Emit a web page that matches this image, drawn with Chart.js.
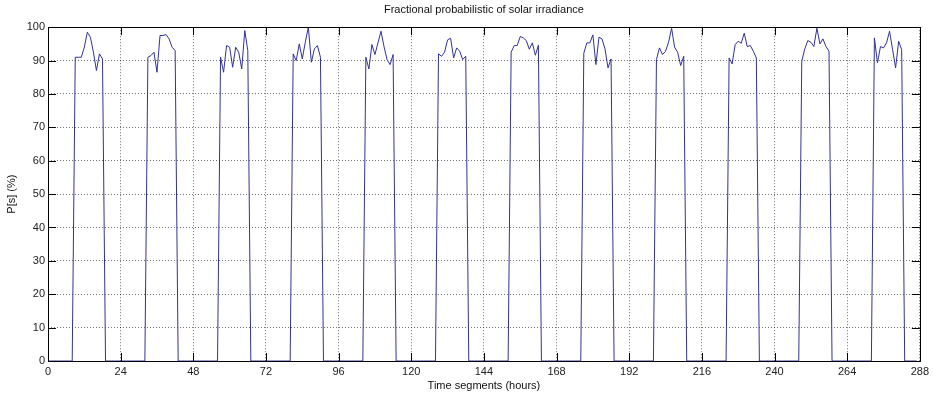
<!DOCTYPE html>
<html>
<head>
<meta charset="utf-8">
<script src="https://cdn.jsdelivr.net/npm/chart.js@4"></script>
<style>
  body { margin: 0; background: #fff; }
  canvas { display: block; }
</style>
</head>
<body>
<canvas id="myChart" width="933" height="401"></canvas>
<script>
// hourly values (%) for each of the 12 days, hour 0..23
const day1  = [0,0,0,0,0,0,0,0,0, 91, 91, 91, 94, 98.5, 97, 92.5, 87, 92, 90.5, 0,0,0,0,0]
const day2  = [0,0,0,0,0,0,0,0,0, 91, 91.5, 92.5, 86.5, 97.5, 97.5, 97.8, 96.5, 94, 93, 0,0,0,0,0]
const day3  = [0,0,0,0,0,0,0,0,0, 91, 86.5, 94.5, 94, 88, 94, 92.5, 87.5, 99, 93, 0,0,0,0,0]
const day4  = [0,0,0,0,0,0,0,0,0, 92, 90, 95, 90.5, 95.5, 100, 89.5, 93.5, 94.5, 91, 0,0,0,0,0]
const day5  = [0,0,0,0,0,0,0,0,0, 91, 87.5, 94.8, 91.8, 95.3, 98.8, 94.2, 90.3, 88.8, 91.8, 0,0,0,0,0]
const day6  = [0,0,0,0,0,0,0,0,0, 92, 91.3, 92.5, 96.2, 96.7, 90.8, 93.8, 92.8, 90.3, 91.3, 0,0,0,0,0]
const day7  = [0,0,0,0,0,0,0,0,0, 92.5, 94.5, 94.5, 97.2, 96.8, 96, 93.4, 95.3, 91.6, 94.6, 0,0,0,0,0]
const day8  = [0,0,0,0,0,0,0,0,0, 92.2, 95.3, 95.3, 97.7, 88.8, 97, 96.5, 93.5, 87.8, 90.5, 0,0,0,0,0]
const day9  = [0,0,0,0,0,0,0,0,0, 90.3, 93.8, 91.8, 92.8, 95.5, 99.7, 94, 92.5, 88.5, 91.3, 0,0,0,0,0]
const day10 = [0,0,0,0,0,0,0,0,0, 90.8, 89, 94.8, 95.8, 95.2, 98.2, 94.2, 94.5, 92.8, 90.8, 0,0,0,0,0]
const day11 = [0,0,0,0,0,0,0,0,0, 89.8, 93.5, 96, 95.5, 94.2, 99.7, 95, 96.5, 94.2, 92.8, 0,0,0,0,0]
const day12 = [0,0,0,0,0,0,0,0,0, 96.8, 89.3, 94.2, 93.8, 95.3, 98.8, 93.3, 87.8, 95.8, 93.3, 0,0,0,0,0]

const xTicks = [0, 24, 48, 72, 96, 120, 144, 168, 192, 216, 240, 264, 288]
const yTicks = [0, 10, 20, 30, 40, 50, 60, 70, 80, 90, 100]

const titleText = 'Fractional probabilistic of solar irradiance'
const xTitle = 'Time segments (hours)'
const yTitle = 'P[s] (%)'

const days = [day1, day2, day3, day4, day5, day6, day7, day8, day9, day10, day11, day12]
const series = [].concat(...days)
const points = series.map((v, i) => ({ x: i, y: v }))

const font = { family: 'Liberation Sans', size: 11 }

// matlab style box with tick marks pointing inwards
const matlabBox = {
    id: 'matlabBox',
    afterDraw(chart) {
        const { ctx, chartArea: a, scales: { x, y } } = chart
        const len = 8
        ctx.save()
        ctx.strokeStyle = '#000'
        ctx.lineWidth = 1
        ctx.beginPath()
        x.ticks.forEach(t => {
            const px = Math.round(x.getPixelForValue(t.value)) + 0.5
            ctx.moveTo(px, a.bottom); ctx.lineTo(px, a.bottom - len)
            ctx.moveTo(px, a.top); ctx.lineTo(px, a.top + len)
        })
        y.ticks.forEach(t => {
            const py = Math.round(y.getPixelForValue(t.value)) + 0.5
            ctx.moveTo(a.left, py); ctx.lineTo(a.left + len, py)
            ctx.moveTo(a.right, py); ctx.lineTo(a.right - len, py)
        })
        ctx.stroke()
        ctx.strokeRect(Math.round(a.left) + 0.5, Math.round(a.top) + 0.5,
            Math.round(a.right - a.left), Math.round(a.bottom - a.top))
        ctx.restore()
    }
}

const config = {
    type: 'line',
    data: {
        datasets: [{
            label: 'P[s]',
            data: points,
            borderColor: 'rgb(50, 50, 150)',
            borderWidth: 1,
            pointRadius: 0,
            tension: 0,
            fill: false
        }]
    },
    options: {
        responsive: false,
        animation: false,
        layout: { padding: { left: 0, right: 8, top: 0, bottom: 0 } },
        plugins: {
            legend: { display: false },
            tooltip: { enabled: false },
            title: {
                display: true,
                text: titleText,
                fullSize: false,
                color: '#111',
                font: { family: 'Liberation Sans', size: 11, weight: 'normal' },
                padding: { top: 3, bottom: 11 }
            }
        },
        scales: {
            x: {
                type: 'linear',
                min: 0,
                max: 288,
                afterBuildTicks: s => { s.ticks = xTicks.map(v => ({ value: v })) },
                afterFit: s => { s.height = 40 },
                ticks: { color: '#222', font, padding: 4, maxRotation: 0, autoSkip: false },
                grid: { color: 'rgba(0,0,0,0.55)', lineWidth: 1, drawTicks: false },
                border: { display: false, dash: [1, 2] },
                title: { display: true, text: xTitle, color: '#111', font, padding: { top: 0, bottom: 8 } }
            },
            y: {
                min: 0,
                max: 100,
                afterBuildTicks: s => { s.ticks = yTicks.map(v => ({ value: v })) },
                afterFit: s => { s.width = 48 },
                ticks: { color: '#222', font, padding: 3 },
                grid: { color: 'rgba(0,0,0,0.55)', lineWidth: 1, drawTicks: false },
                border: { display: false, dash: [1, 2] },
                title: { display: true, text: yTitle, color: '#111', font, padding: { top: 5, bottom: 0 } }
            }
        }
    },
    plugins: [matlabBox]
}

const myChart = new Chart(document.getElementById('myChart'), config)
</script>
</body>
</html>
